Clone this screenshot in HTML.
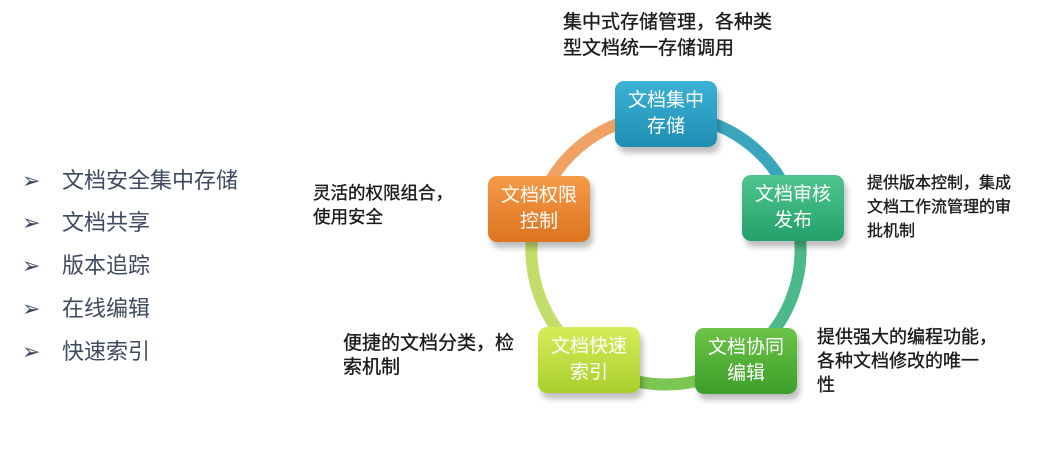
<!DOCTYPE html>
<html><head><meta charset="utf-8"><style>
body{margin:0;width:1061px;height:460px;background:#fff;position:relative;overflow:hidden;font-family:"Liberation Sans","Noto Sans CJK SC",sans-serif}
.li{position:absolute;left:22px;font-size:22px;color:#3d4a60;line-height:26px}
.li span{position:absolute;left:40px;white-space:nowrap}
.li b{font-weight:normal;font-size:22px;color:#3d4a60}
.t{position:absolute;font-size:16px;color:#1a1a1a;line-height:24px;white-space:nowrap;font-weight:normal;-webkit-text-stroke:0.35px #1a1a1a}
.box{position:absolute;width:102px;height:66px;border-radius:9px;color:#fff;font-size:19px;line-height:26px;text-align:center;display:flex;align-items:center;justify-content:center;box-shadow:3px 6px 6px rgba(0,0,0,.25)}
</style></head><body>
<div class="li" style="top:168px"><b>➢</b><span>文档安全集中存储</span></div>
<div class="li" style="top:210px"><b>➢</b><span>文档共享</span></div>
<div class="li" style="top:253px"><b>➢</b><span>版本追踪</span></div>
<div class="li" style="top:296px"><b>➢</b><span>在线编辑</span></div>
<div class="li" style="top:339px"><b>➢</b><span>快速索引</span></div>

<svg width="1061" height="460" style="position:absolute;left:0;top:0">
<g fill="none" stroke-width="12">
<path d="M666 115 A135 135 0 0 1 794 208" stroke="#3aa6be"/>
<path d="M794 208 A135 135 0 0 1 745 359" stroke="#4cb98a"/>
<path d="M745 359 A135 135 0 0 1 587 359" stroke="#7cc653"/>
<path d="M587 359 A135 135 0 0 1 538 208" stroke="#c3dd6a"/>
<path d="M538 208 A135 135 0 0 1 666 115" stroke="#f0a264"/>
</g></svg>

<div class="box" style="left:615px;top:81px;background:linear-gradient(#3cb3d4,#1f8db3)">文档集中<br>存储</div>
<div class="box" style="left:742px;top:175px;background:linear-gradient(#4fc58e,#24a06a)">文档审核<br>发布</div>
<div class="box" style="left:488px;top:176px;background:linear-gradient(#f59a48,#dd7420)">文档权限<br>控制</div>
<div class="box" style="left:538px;top:327px;background:linear-gradient(#d6ec5a,#a9cf2c)">文档快速<br>索引</div>
<div class="box" style="left:695px;top:328px;background:linear-gradient(#6cc447,#3c9e2a)">文档协同<br>编辑</div>

<div class="t" style="left:563px;top:10px;font-size:19px;line-height:26px">集中式存储管理，各种类<br>型文档统一存储调用</div>
<div class="t" style="left:867px;top:172px;font-size:16px">提供版本控制，集成<br>文档工作流管理的审<br>批机制</div>
<div class="t" style="left:313px;top:181px;font-size:17.5px">灵活的权限组合，<br>使用安全</div>
<div class="t" style="left:343px;top:332px;font-size:19px">便捷的文档分类，检<br>索机制</div>
<div class="t" style="left:817px;top:325px;font-size:18px">提供强大的编程功能，<br>各种文档修改的唯一<br>性</div>
</body></html>
